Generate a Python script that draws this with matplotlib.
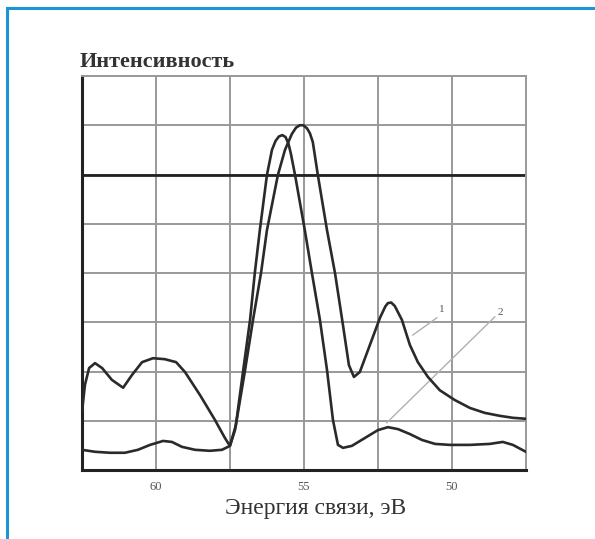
import numpy as np
import matplotlib
matplotlib.use("Agg")
import matplotlib.pyplot as plt
from matplotlib.patches import Rectangle

# curve 1: bumps on the left, peak near 55 eV, second peak near 52 eV
e1 = [62.5, 62.4, 62.26, 62.06, 61.82, 61.49, 61.11, 60.81, 60.47, 60.10, 59.70, 59.32,
      59.02, 58.51, 58.01, 57.67, 57.5, 57.33, 57.0, 56.72, 56.45, 56.25, 55.88, 55.64,
      55.41, 55.27, 55.14, 55.02, 54.9, 54.8, 54.7, 54.53, 54.22, 53.95, 53.68, 53.48,
      53.31, 53.11, 52.77, 52.43, 52.25, 52.16, 52.05, 51.93, 51.69, 51.42, 51.15, 50.81,
      50.41, 49.9, 49.39, 48.89, 48.38, 47.94, 47.5]
i1 = [1.18, 1.73, 2.07, 2.17, 2.07, 1.83, 1.67, 1.93, 2.19, 2.27, 2.25, 2.19,
      1.99, 1.52, 1.02, 0.65, 0.49, 0.81, 1.99, 3.05, 4.0, 4.87, 5.99, 6.5,
      6.82, 6.95, 7.0, 7.0, 6.94, 6.84, 6.66, 5.99, 4.87, 4.0, 2.94, 2.13,
      1.89, 1.99, 2.54, 3.09, 3.32, 3.39, 3.40, 3.33, 3.05, 2.54, 2.19, 1.89,
      1.62, 1.42, 1.26, 1.16, 1.10, 1.06, 1.04]

# curve 2: low baseline, peak near 55.8 eV
e2 = [62.5, 62.06, 61.55, 61.05, 60.61, 60.2, 59.76, 59.46, 59.12, 58.68, 58.18, 57.77,
      57.5, 57.3, 57.06, 56.82, 56.66, 56.49, 56.25, 56.08, 55.96, 55.85, 55.73, 55.62,
      55.52, 55.44, 55.3, 54.97, 54.73, 54.46, 54.22, 54.02, 53.85, 53.68, 53.38, 52.94,
      52.5, 52.16, 51.82, 51.42, 51.01, 50.57, 50.07, 49.39, 48.72, 48.28, 47.94, 47.5]
i2 = [0.41, 0.37, 0.35, 0.35, 0.41, 0.51, 0.59, 0.57, 0.47, 0.41, 0.39, 0.41,
      0.49, 0.91, 1.99, 3.05, 4.0, 4.87, 5.99, 6.5, 6.68, 6.77, 6.8, 6.76,
      6.62, 6.42, 5.99, 4.87, 4.0, 3.05, 2.03, 1.02, 0.51, 0.45, 0.49, 0.65,
      0.81, 0.87, 0.83, 0.73, 0.61, 0.53, 0.51, 0.51, 0.53, 0.57, 0.51, 0.37]

xticks = [60, 55, 50]
xtick_labels = ["60", "55", "50"]

fig = plt.figure(figsize=(5.95, 5.39), dpi=100)
ax = fig.add_axes([0.1378, 0.128, 0.746, 0.731])

ax.set_xlim(62.5, 47.5)
ax.set_ylim(0, 8)
ax.set_xticks(xticks)
ax.set_xticklabels(xtick_labels, family="Liberation Serif", fontsize=9, color="#555555")
ax.set_xticks([57.5, 52.5], minor=True)
ax.set_yticks(range(0, 9))
ax.set_yticklabels([])
ax.tick_params(which="both", length=0, pad=8)
ax.grid(True, which="both", color="#999999", lw=1.4)
ax.axhline(6, color="#222222", lw=2)

for s in ["left", "bottom"]:
    ax.spines[s].set_color("#222222")
    ax.spines[s].set_linewidth(2.2)
for s in ["top", "right"]:
    ax.spines[s].set_color("#999999")
    ax.spines[s].set_linewidth(1.4)

ax.plot(e1, i1, color="#2a2a2a", lw=1.9, zorder=3)
ax.plot(e2, i2, color="#2a2a2a", lw=1.9, zorder=3)

# pointers for curve labels
ax.plot([51.32, 50.51], [2.74, 3.09], color="#b0b0b0", lw=1)
ax.plot([52.2, 48.55], [0.96, 3.11], color="#b0b0b0", lw=1)
ax.text(50.34, 3.25, "1", family="Liberation Serif", fontsize=8, color="#555555", ha="center", va="center")
ax.text(48.38, 3.2, "2", family="Liberation Serif", fontsize=8, color="#555555", ha="center", va="center")

fig.text(0.134, 0.885, "Интенсивность", family="Liberation Serif", fontsize=16,
         fontweight="bold", color="#333333", ha="left", va="center")
fig.text(0.53, 0.057, "Энергия связи, эВ", family="Liberation Serif", fontsize=17,
         color="#333333", ha="center", va="center")

fig.patches.append(Rectangle((7 / 595, -0.1), 1.2, (539 - 8) / 539 + 0.1,
                             transform=fig.transFigure, fill=False,
                             ec="#1b96d3", lw=2.2))

fig.savefig("out.png", dpi=100)
